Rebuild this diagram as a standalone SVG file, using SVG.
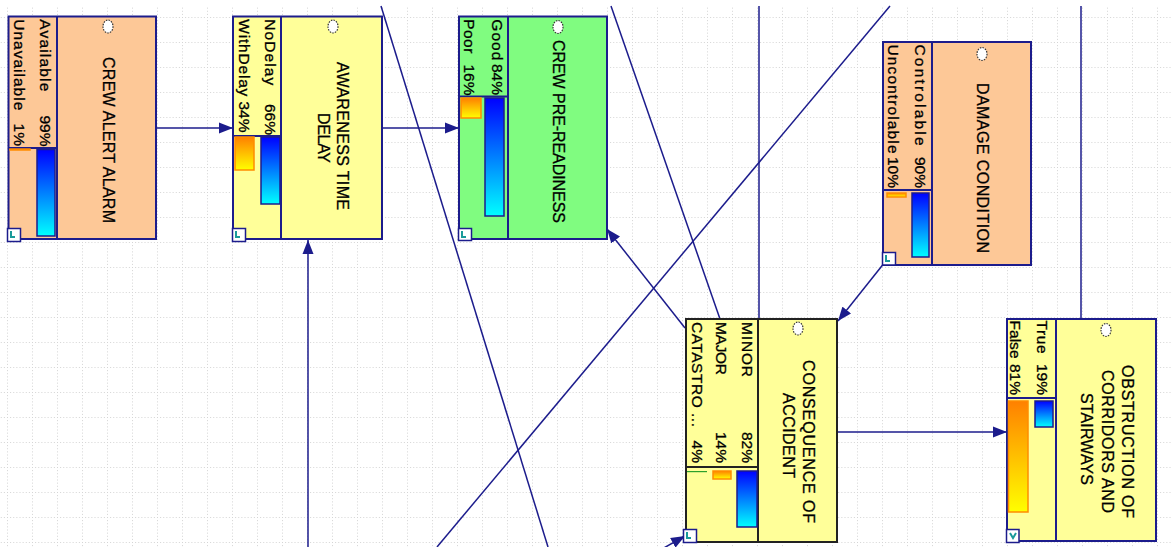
<svg xmlns="http://www.w3.org/2000/svg" width="1171" height="547" viewBox="0 0 1171 547">
<style>
.t{font-family:"Liberation Sans",Arial,sans-serif;font-size:16px;fill:#000;stroke:#000;stroke-width:0.3;dominant-baseline:central;text-anchor:middle}
.s{font-family:"Liberation Sans",Arial,sans-serif;font-size:15.5px;fill:#000;stroke:#000;stroke-width:0.3;dominant-baseline:central}
.e{text-anchor:end}
.box{stroke:#1c1c8c;stroke-width:2}
.peach{fill:#fdc897}
.yel{fill:#ffff99}
.grn{fill:#80fc80}
.div{stroke:#1c1c8c;stroke-width:2;fill:none}
.blue{fill:url(#gb);stroke:#1c1c8c;stroke-width:1.5}
.org{fill:url(#go);stroke:#ff8c00;stroke-width:1.5}
.ico{fill:#fff;stroke:#333;stroke-width:1.2;stroke-dasharray:1.5 1.2}
.sq{fill:#fff;stroke:#1c1c8c;stroke-width:1.5}
.sqg{fill:none;stroke:#1a9a9a;stroke-width:2}
.c{stroke:#1c1c8c;stroke-width:1.5;fill:none}
.a{marker-end:url(#ah)}
</style>
<defs>
<linearGradient id="gb" x1="0" y1="0" x2="0" y2="1"><stop offset="0" stop-color="#0000ff"/><stop offset="1" stop-color="#00ffff"/></linearGradient>
<linearGradient id="go" x1="0" y1="0" x2="0" y2="1"><stop offset="0" stop-color="#ff8000"/><stop offset="1" stop-color="#ffff00"/></linearGradient>
<pattern id="grid" x="7" y="17" width="25" height="25" patternUnits="userSpaceOnUse">
<path d="M0,0.5 H25 M0.5,0 V25" stroke="#d4d4d4" stroke-width="1" stroke-dasharray="1 2.125" fill="none"/>
</pattern>
<marker id="ah" markerUnits="userSpaceOnUse" markerWidth="15" markerHeight="12" refX="14" refY="6" orient="auto"><path d="M0,0.5 L14,6 L0,11.5 Z" fill="#1c1c8c"/></marker>
</defs>
<rect width="1171" height="547" fill="#fff"/>
<rect x="0" y="6" width="1171" height="541" fill="url(#grid)"/>

<g id="connectors">
<path class="c a" d="M156,128 L233,128"/>
<path class="c a" d="M382,128 L459,128"/>
<path class="c a" d="M308,547 L308,240"/>
<path class="c a" d="M685,328 L607,229"/>
<path class="c a" d="M885,262 L838,321"/>
<path class="c a" d="M837,432 L1007,432"/>
<path class="c a" d="M662,549 L685,536"/>
<path class="c" d="M381,6 L548,547"/>
<path class="c" d="M611,6 L720,319"/>
<path class="c" d="M759,6 L759,319"/>
<path class="c" d="M890,6 L437,547"/>
<path class="c" d="M1081,6 L1081,319"/>
</g>

<g id="crew-alert-alarm">
<rect class="box peach" x="8.5" y="16.5" width="147.5" height="222.5"/>
<path class="div" d="M57,16.5 V239 M8.5,148 H57"/>
<rect class="org" x="10" y="149" width="20" height="1"/>
<rect class="blue" x="37" y="149.5" width="18" height="86.5"/>
<text class="s" transform="translate(45.5,19.3) rotate(90)" textLength="72" lengthAdjust="spacing">Available</text>
<text class="s e" transform="translate(45.5,146.5) rotate(90)">99%</text>
<text class="s" transform="translate(19,19.3) rotate(90)" textLength="91" lengthAdjust="spacing">Unavailable</text>
<text class="s e" transform="translate(19,146) rotate(90)">1%</text>
<text class="t" transform="translate(108,140) rotate(90)" textLength="166" lengthAdjust="spacing">CREW ALERT ALARM</text>
<ellipse class="ico" cx="108" cy="26.5" rx="5" ry="6.5"/>
<rect class="sq" x="7.5" y="228.5" width="13" height="13"/>
<path class="sqg" d="M11,231 V237 H15"/>
</g>

<g id="awareness-time-delay">
<rect class="box yel" x="233" y="16.5" width="149" height="222.5"/>
<path class="div" d="M281,16.5 V239 M233,136 H281"/>
<rect class="org" x="235" y="137" width="19" height="33"/>
<rect class="blue" x="261" y="137" width="19" height="67"/>
<text class="s" transform="translate(270,19.3) rotate(90)" textLength="66" lengthAdjust="spacing">NoDelay</text>
<text class="s e" transform="translate(270,135) rotate(90)">66%</text>
<text class="s" transform="translate(244,19.3) rotate(90)" textLength="77" lengthAdjust="spacing">WithDelay</text>
<text class="s e" transform="translate(244,132.5) rotate(90)">34%</text>
<text class="t" transform="translate(342,136) rotate(90)" textLength="148" lengthAdjust="spacing">AWARENESS TIME</text>
<text class="t" transform="translate(323,138) rotate(90)" textLength="50" lengthAdjust="spacing">DELAY</text>
<ellipse class="ico" cx="333" cy="26.5" rx="5" ry="6.5"/>
<rect class="sq" x="232.5" y="228.5" width="13" height="13"/>
<path class="sqg" d="M236,231 V237 H240"/>
</g>

<g id="crew-pre-readiness">
<rect class="box grn" x="459" y="16.5" width="148" height="222.5"/>
<path class="div" d="M508,16.5 V239 M459,96.5 H508"/>
<rect class="org" x="461" y="98" width="20" height="20"/>
<rect class="blue" x="485" y="98" width="19" height="118"/>
<text class="s" transform="translate(497,19.3) rotate(90)" textLength="41" lengthAdjust="spacing">Good</text>
<text class="s e" transform="translate(497,95) rotate(90)">84%</text>
<text class="s" transform="translate(469,19.3) rotate(90)" textLength="34" lengthAdjust="spacing">Poor</text>
<text class="s e" transform="translate(469,95.5) rotate(90)">16%</text>
<text class="t" transform="translate(558,131.5) rotate(90)" textLength="183" lengthAdjust="spacing">CREW PRE-READINESS</text>
<ellipse class="ico" cx="558" cy="27" rx="5" ry="6.5"/>
<rect class="sq" x="458.5" y="228.5" width="13" height="12"/>
<path class="sqg" d="M462,231 V237 H466"/>
</g>

<g id="damage-condition">
<rect class="box peach" x="883" y="42" width="148" height="223"/>
<path class="div" d="M932,42 V265 M883,190 H932"/>
<rect class="org" x="887" y="193" width="19" height="4"/>
<rect class="blue" x="912" y="193" width="17" height="64"/>
<text class="s" transform="translate(920,44.5) rotate(90)" textLength="101" lengthAdjust="spacing">Controlable</text>
<text class="s e" transform="translate(920,188) rotate(90)">90%</text>
<text class="s" transform="translate(893,44.5) rotate(90)" textLength="109" lengthAdjust="spacing">Uncontrolable</text>
<text class="s e" transform="translate(893,188) rotate(90)">10%</text>
<text class="t" transform="translate(982,168) rotate(90)" textLength="170" lengthAdjust="spacing">DAMAGE CONDITION</text>
<ellipse class="ico" cx="982" cy="54" rx="5" ry="6.5"/>
<rect class="sq" x="882.5" y="252.5" width="13" height="12.5"/>
<path class="sqg" d="M886,255 V261 H890"/>
</g>

<g id="consequence-of-accident">
<rect x="686" y="319" width="151" height="223" class="yel" stroke="#222" stroke-width="2"/>
<path d="M758,319 V542 M686,467 H758" stroke="#222" stroke-width="2" fill="none"/>
<rect x="687" y="471" width="20" height="1.2" fill="#2ca02c"/>
<rect class="org" x="713" y="471" width="18" height="8"/>
<rect class="blue" x="737" y="471" width="20" height="56"/>
<text class="s" transform="translate(747,322) rotate(90)" textLength="55" lengthAdjust="spacing">MINOR</text>
<text class="s e" transform="translate(747,463) rotate(90)">82%</text>
<text class="s" transform="translate(721,322) rotate(90)" textLength="53" lengthAdjust="spacing">MAJOR</text>
<text class="s e" transform="translate(721,463) rotate(90)">14%</text>
<text class="s" transform="translate(697,322) rotate(90)" textLength="105" lengthAdjust="spacing">CATASTRO ...</text>
<text class="s e" transform="translate(697,463) rotate(90)">4%</text>
<text class="t" transform="translate(808,441.5) rotate(90)" textLength="163" lengthAdjust="spacing">CONSEQUENCE OF</text>
<text class="t" transform="translate(788,435.5) rotate(90)" textLength="85" lengthAdjust="spacing">ACCIDENT</text>
<ellipse class="ico" cx="798" cy="328.5" rx="5" ry="6.5"/>
<rect class="sq" x="683.5" y="529.5" width="13" height="13"/>
<path class="sqg" d="M687,532 V538 H691"/>
</g>

<g id="obstruction-of-corridors-and-stairways">
<rect class="box yel" x="1007" y="319" width="149" height="222"/>
<path class="div" d="M1056,319 V541 M1007,398 H1056"/>
<rect class="blue" x="1035" y="401" width="18" height="26"/>
<rect class="org" x="1008.5" y="401" width="19.5" height="111"/>
<text class="s" transform="translate(1042,320.5) rotate(90)" textLength="33" lengthAdjust="spacing">True</text>
<text class="s e" transform="translate(1042,395) rotate(90)">19%</text>
<text class="s" transform="translate(1015,320.5) rotate(90)" textLength="38" lengthAdjust="spacing">False</text>
<text class="s e" transform="translate(1015,395) rotate(90)">81%</text>
<text class="t" transform="translate(1127,441.5) rotate(90)" textLength="153" lengthAdjust="spacing">OBSTRUCTION OF</text>
<text class="t" transform="translate(1107,441.5) rotate(90)" textLength="143" lengthAdjust="spacing">CORRIDORS AND</text>
<text class="t" transform="translate(1086,439) rotate(90)" textLength="92" lengthAdjust="spacing">STAIRWAYS</text>
<ellipse class="ico" cx="1106" cy="330" rx="5" ry="6.5"/>
<rect class="sq" x="1006.5" y="529.5" width="12.5" height="13"/>
<path class="sqg" d="M1010,533 L1013,538 L1016,533"/>
</g>
</svg>
